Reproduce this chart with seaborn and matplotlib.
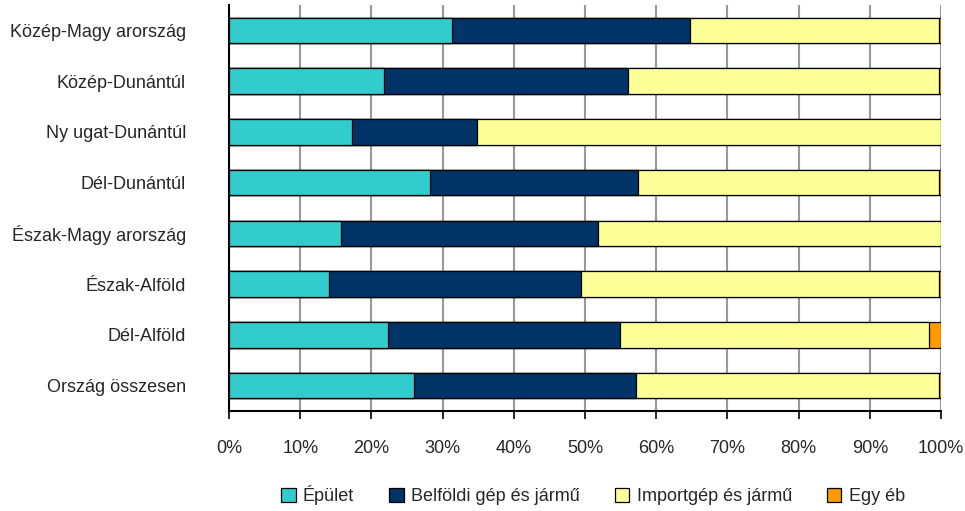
import matplotlib
matplotlib.use("Agg")
import matplotlib.pyplot as plt
from matplotlib.patches import Patch
import seaborn as sns
import pandas as pd
import numpy as np

regions = ["Közép-Magy arország", "Közép-Dunántúl", "Ny ugat-Dunántúl", "Dél-Dunántúl",
           "Észak-Magy arország", "Észak-Alföld", "Dél-Alföld", "Ország összesen"]
series_names = ["Épület", "Belföldi gép és jármű", "Importgép és jármű", "Egy éb"]
epulet = [31.3, 21.7, 17.3, 28.3, 15.8, 14.1, 22.3, 26.0]
belfoldi = [33.4, 34.3, 17.5, 29.1, 36.0, 35.4, 32.6, 31.1]
import_gep = [35.0, 43.7, 65.2, 42.3, 48.2, 50.2, 43.4, 42.6]
egyeb = [0.3, 0.3, 0.0, 0.3, 0.0, 0.3, 1.7, 0.3]
xticks = [0, 10, 20, 30, 40, 50, 60, 70, 80, 90, 100]
xticklabels = ["0%", "10%", "20%", "30%", "40%", "50%", "60%", "70%", "80%", "90%", "100%"]

colors = ["#33CCCC", "#003366", "#FFFF99", "#FF9900"]

sns.set_theme(style="white")
plt.rcParams['font.family'] = ['Liberation Sans', 'DejaVu Sans']

fig = plt.figure(figsize=(9.65, 5.11), dpi=100)
ax = fig.add_axes([229/965, 1 - 411/511, (941-229)/965, (411-5)/511])

values = [epulet, belfoldi, import_gep, egyeb]
cum = np.cumsum(np.array(values), axis=0)

# draw cumulative bars from the longest to the shortest
for i in range(3, -1, -1):
    df = pd.DataFrame({"region": regions, "value": cum[i]})
    sns.barplot(data=df, x="value", y="region", orient="h", color=colors[i],
                width=0.5, edgecolor="black", linewidth=0.9, saturation=1,
                ax=ax, zorder=3)

ax.set_xlim(0, 100)
ax.set_ylim(7.5, -0.5)
ax.set_xticks(xticks)
ax.set_xticklabels(xticklabels, fontsize=13)
ax.tick_params(axis="y", labelsize=13, length=0, pad=31)
ax.tick_params(axis="x", length=6, width=1.2, direction="out", color="black", pad=15, bottom=True)
ax.set_xlabel("")
ax.set_ylabel("")
ax.grid(axis="x", color="#999999", linewidth=1.5, zorder=0)
ax.set_axisbelow(True)
for s in ["top", "right"]:
    ax.spines[s].set_visible(False)
for s in ["left", "bottom"]:
    ax.spines[s].set_color("black")
    ax.spines[s].set_linewidth(1.5)

handles = [Patch(facecolor=c, edgecolor="black", linewidth=0.9) for c in colors]
fig.legend(handles, series_names, loc="center", bbox_to_anchor=(593/965, 1 - 495/511),
           ncol=4, frameon=False, fontsize=13, handlelength=0.8, handleheight=0.8,
           handletextpad=0.4, columnspacing=1.95)

fig.savefig("out.png", dpi=100)
